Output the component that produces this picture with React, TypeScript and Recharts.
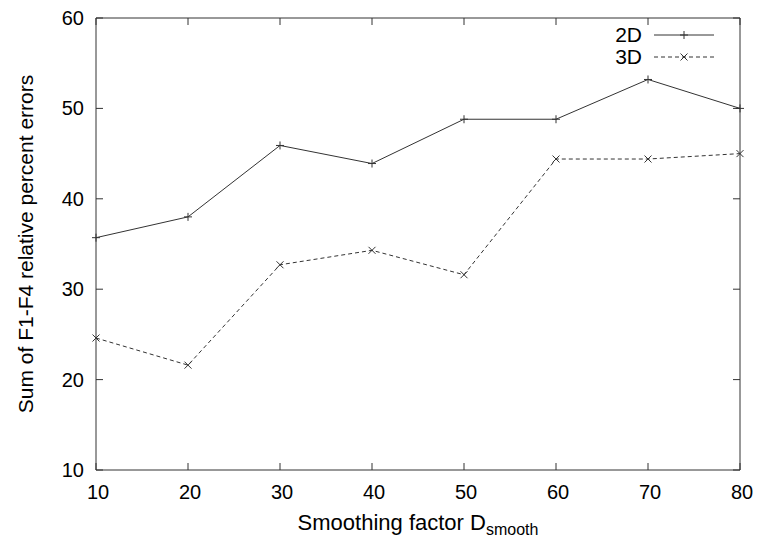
import { LineChart, Line, XAxis, YAxis, ReferenceArea, Legend } from 'recharts'

const xValues = [10, 20, 30, 40, 50, 60, 70, 80]
const series2D = [35.7, 38.0, 45.9, 43.9, 48.8, 48.8, 53.2, 50.0]
const series3D = [24.6, 21.6, 32.7, 34.3, 31.6, 44.4, 44.4, 45.0]
const xTicks = [10, 20, 30, 40, 50, 60, 70, 80]
const yTicks = [10, 20, 30, 40, 50, 60]

const data = xValues.map((x, i) => ({ x, d2: series2D[i], d3: series3D[i] }))

const FONT = '"Liberation Sans", Arial, Helvetica, sans-serif'
const INK = '#333'
const TOP = 18
const BOTTOM = 470
const LEFT = 96
const RIGHT = 740
const TICK = 7

function XTick({ x, payload }: any) {
  return (
    <g>
      <line x1={x} x2={x} y1={BOTTOM} y2={BOTTOM - TICK} stroke={INK} />
      <line x1={x} x2={x} y1={TOP} y2={TOP + TICK} stroke={INK} />
      <text x={x + 2} y={499} textAnchor="middle" fontSize={20} fontFamily={FONT} fill="#000">
        {payload.value}
      </text>
    </g>
  )
}

function YTick({ y, payload }: any) {
  return (
    <g>
      <line x1={LEFT} x2={LEFT + TICK} y1={y} y2={y} stroke={INK} />
      <line x1={RIGHT} x2={RIGHT - TICK} y1={y} y2={y} stroke={INK} />
      <text x={84} y={y + 7} textAnchor="end" fontSize={20} fontFamily={FONT} fill="#000">
        {payload.value}
      </text>
    </g>
  )
}

const plusPath = (cx: number, cy: number, r = 4) =>
  `M${cx - r},${cy}H${cx + r}M${cx},${cy - r}V${cy + r}`
const crossPath = (cx: number, cy: number, r = 3.5) =>
  `M${cx - r},${cy - r}L${cx + r},${cy + r}M${cx - r},${cy + r}L${cx + r},${cy - r}`

function PlusDot(props: any) {
  const { cx, cy, index } = props
  return <path key={`p-${index}`} d={plusPath(cx, cy)} stroke={INK} fill="none" />
}

function CrossDot(props: any) {
  const { cx, cy, index } = props
  return <path key={`c-${index}`} d={crossPath(cx, cy)} stroke={INK} fill="none" />
}

function LegendBox() {
  return (
    <svg width={130} height={50}>
      <text x={42} y={20} textAnchor="end" fontSize={21} fontFamily={FONT}>2D</text>
      <line x1={54} x2={114} y1={13} y2={13} stroke={INK} />
      <path d={plusPath(84, 13)} stroke={INK} />
      <text x={42} y={42} textAnchor="end" fontSize={21} fontFamily={FONT}>3D</text>
      <line x1={54} x2={114} y1={35} y2={35} stroke={INK} strokeDasharray="4 3" />
      <path d={crossPath(84, 35)} stroke={INK} />
    </svg>
  )
}

export default function App() {
  return (
    <div style={{ position: 'absolute', left: 0, top: 0, width: 757, height: 542, background: '#fff' }}>
      <LineChart width={757} height={542} data={data} margin={{ top: 18, right: 17, bottom: 42, left: 36 }}>
        <XAxis
          dataKey="x"
          type="number"
          domain={[10, 80]}
          ticks={xTicks}
          tick={XTick}
          tickLine={false}
          axisLine={false}
          height={30}
          interval={0}
        />
        <YAxis
          type="number"
          domain={[10, 60]}
          ticks={yTicks}
          tick={YTick}
          tickLine={false}
          axisLine={false}
          width={60}
          interval={0}
        />
        <ReferenceArea x1={10} x2={80} y1={10} y2={60} fill="none" stroke={INK} strokeOpacity={1} />
        <Legend
          layout="vertical"
          align="center"
          verticalAlign="middle"
          content={LegendBox}
          wrapperStyle={{ left: 600, top: 22, width: 130, height: 50 }}
        />
        <Line
          dataKey="d2"
          type="linear"
          stroke={INK}
          strokeWidth={1}
          dot={PlusDot}
          activeDot={false}
          isAnimationActive={false}
        />
        <Line
          dataKey="d3"
          type="linear"
          stroke={INK}
          strokeWidth={1}
          strokeDasharray="4 3"
          dot={CrossDot}
          activeDot={false}
          isAnimationActive={false}
        />
      </LineChart>
      <svg
        width={757}
        height={542}
        style={{ position: 'absolute', left: 0, top: 0, pointerEvents: 'none' }}
      >
        <text
          transform="translate(33,244) rotate(-90)"
          textAnchor="middle"
          fontSize={21}
          fontFamily={FONT}
        >
          Sum of F1-F4 relative percent errors
        </text>
        <text x={418} y={530} textAnchor="middle" fontSize={22} fontFamily={FONT}>
          Smoothing factor D
          <tspan fontSize={16} dy={5}>smooth</tspan>
        </text>
      </svg>
    </div>
  )
}
